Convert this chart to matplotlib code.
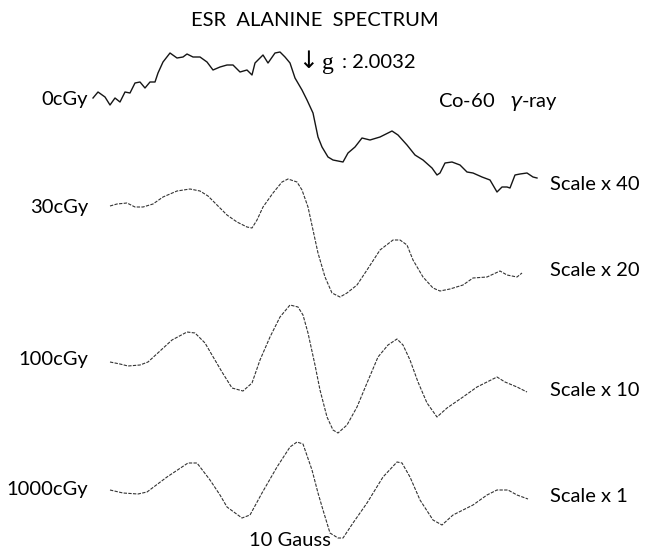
import matplotlib.pyplot as plt

# ESR spectra of irradiated alanine, read as field position vs. signal
# (signal is relative to each trace's own baseline, positive = up)

# 0 cGy (scale x40) - noisy background trace
field_0 = [93, 98, 105, 110, 115, 120, 125, 130, 135, 140, 145, 150, 155, 158, 163, 170,
           177, 183, 187, 193, 200, 207, 213, 220, 227, 233, 240, 247, 252, 255, 263, 268,
           275, 280, 285, 290, 295, 302, 307, 313, 318, 322, 328, 333, 343, 348, 355, 362,
           370, 380, 388, 392, 398, 407, 415, 423, 432, 437, 440, 445, 452, 460, 467, 473,
           482, 490, 497, 502, 507, 510, 515, 520, 527, 533, 537]
signal_0 = [0, 6, 1, -7, 0, -4, 6, 5, 15, 16, 10, 16, 16, 25, 36, 45,
            40, 41, 44, 41, 41, 36, 28, 31, 33, 33, 26, 28, 23, 35, 43, 35,
            45, 46, 41, 35, 20, 8, -2, -15, -39, -49, -59, -62, -64, -55, -49, -40,
            -42, -39, -35, -33, -37, -47, -57, -62, -70, -77, -75, -65, -64, -67, -74, -75,
            -79, -82, -94, -89, -89, -90, -77, -76, -75, -79, -80]

# 30 cGy (scale x20)
field_30 = [110, 117, 127, 135, 143, 153, 163, 177, 190, 200, 208, 217, 227, 237, 247, 252,
            257, 263, 273, 282, 288, 297, 302, 308, 313, 318, 325, 332, 340, 347, 357, 367,
            380, 393, 400, 407, 413, 423, 433, 440, 450, 463, 473, 487, 500, 507, 517, 522]
signal_30 = [0, 2, 3, -1, -1, 2, 9, 15, 17, 15, 10, 1, -9, -16, -21, -22,
             -14, -1, 13, 24, 27, 24, 16, -1, -24, -47, -71, -87, -91, -87, -79, -64,
             -44, -34, -34, -39, -54, -71, -82, -85, -83, -79, -72, -71, -65, -69, -71, -67]

# 100 cGy (scale x10)
field_100 = [110, 120, 128, 140, 148, 160, 172, 187, 195, 205, 212, 222, 232, 243, 252, 260,
             270, 280, 290, 298, 303, 308, 315, 320, 327, 333, 338, 347, 357, 367, 378, 388,
             397, 403, 410, 418, 427, 437, 447, 463, 477, 487, 497, 505, 517, 527]
signal_100 = [0, -2, -4, -3, 0, 11, 22, 30, 29, 19, 7, -10, -26, -29, -21, 2,
              25, 45, 57, 55, 47, 29, -3, -28, -55, -68, -71, -63, -45, -21, 5, 17,
              23, 17, 2, -20, -41, -55, -46, -35, -25, -20, -15, -20, -25, -30]

# 1000 cGy (scale x1)
field_1000 = [110, 123, 138, 147, 167, 188, 197, 210, 220, 227, 242, 250, 262, 277, 290, 297,
              303, 312, 318, 323, 330, 338, 343, 353, 367, 383, 397, 402, 410, 420, 433, 442,
              453, 473, 487, 497, 508, 517, 528]
signal_1000 = [0, -3, -4, -2, 13, 27, 27, 10, -5, -17, -28, -25, -3, 23, 43, 48,
               46, 20, -3, -20, -43, -48, -48, -33, -13, 13, 28, 27, 13, -10, -30, -35,
               -25, -15, -5, 0, 0, -5, -9]

doses = ["0cGy", "30cGy", "100cGy", "1000cGy"]
scales = ["Scale x 40", "Scale x 20", "Scale x 10", "Scale x 1"]

# layout: baseline of each trace and label heights (figure pixels, y down)
baselines = [98, 206, 362, 490]
dose_label_y = [100, 208, 360, 489]
scale_label_y = [185, 270, 390, 497]

plt.rcParams['font.family'] = ['Lato', 'DejaVu Sans']

fig = plt.figure(figsize=(6.48, 5.53), dpi=100)
ax = fig.add_axes([0, 0, 1, 1])
ax.set_xlim(0, 648)
ax.set_ylim(553, 0)
ax.axis('off')

traces = [(field_0, signal_0), (field_30, signal_30),
          (field_100, signal_100), (field_1000, signal_1000)]
for i, (f, s) in enumerate(traces):
    y = [baselines[i] - v for v in s]
    if i == 0:
        ax.plot(f, y, color='#151515', lw=1.0)
    else:
        ax.plot(f, y, color='#333333', lw=0.8, ls=(0, (3, 1.2)))
    ax.text(88, dose_label_y[i], doses[i], ha='right', va='center', fontsize=14.5)
    ax.text(550, scale_label_y[i], scales[i], ha='left', va='center', fontsize=14.5)

ax.text(315, 20, "ESR  ALANINE  SPECTRUM", ha='center', va='center', fontsize=14.5)
ax.text(308, 61, "\u2193", ha='center', va='center', fontsize=17, family='DejaVu Sans')
ax.text(322, 63, "g", ha='left', va='center', fontsize=17, family='Liberation Serif')
ax.text(342, 63, ": 2.0032", ha='left', va='center', fontsize=14.5)
ax.text(438, 102, "Co-60   $\\gamma$-ray", ha='left', va='center', fontsize=14.5)
ax.text(290, 541, "10 Gauss", ha='center', va='center', fontsize=14.5)

fig.savefig("out.png", dpi=100)
